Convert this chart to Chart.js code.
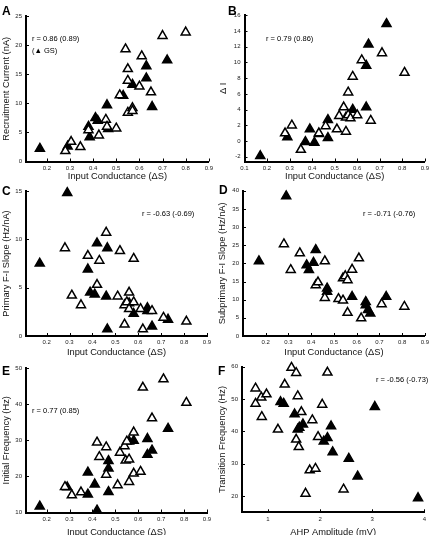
<!DOCTYPE html>
<html>
<head>
<meta charset="utf-8">
<script src="https://cdn.jsdelivr.net/npm/chart.js@4.4.0/dist/chart.umd.min.js"></script>
<style>
html, body { margin: 0; padding: 0; background: #fff; overflow: hidden; }
#wrap { position: relative; width: 432px; height: 535px; }
canvas { position: absolute; }
</style>
</head>
<body>
<div id="wrap"></div>
<script>
// tick labels
var condTicks = [0.2, 0.3, 0.4, 0.5, 0.6, 0.7, 0.8, 0.9];
var condTicksB = [0.1, 0.2, 0.3, 0.4, 0.5, 0.6, 0.7, 0.8, 0.9];
var ahpTicks = [1, 2, 3, 4];
var recruitTicks = [0, 5, 10, 15, 20, 25];
var deltaTicks = [-2, 0, 2, 4, 6, 8, 10, 12, 14, 16];
var primTicks = [0, 5, 10, 15];
var subTicks = [0, 5, 10, 15, 20, 25, 30, 35, 40];
var initTicks = [10, 20, 30, 40, 50];
var transTicks = [20, 30, 40, 50, 60];

// A: recruitment current vs input conductance
var aFilled = [[0.17,2.2],[0.29,2.6],[0.38,6.0],[0.385,4.2],[0.41,7.5],[0.42,7.0],[0.46,9.7],[0.465,5.6],[0.53,11.3],[0.57,13.2],[0.63,16.4],[0.63,14.3],[0.655,9.4],[0.72,17.4]];
var aOpen = [[0.28,1.8],[0.305,3.4],[0.345,2.5],[0.38,5.4],[0.425,4.5],[0.455,7.2],[0.46,6.0],[0.50,5.7],[0.515,11.4],[0.54,19.3],[0.55,15.9],[0.55,13.9],[0.55,8.4],[0.57,9.2],[0.57,8.7],[0.60,12.9],[0.61,18.1],[0.65,11.9],[0.70,21.6],[0.80,22.2]];

// B: delta I
var bFilled = [[0.17,-1.9],[0.29,0.5],[0.37,-0.1],[0.39,1.5],[0.41,-0.2],[0.43,0.9],[0.47,2.7],[0.47,0.4],[0.58,4.0],[0.64,4.3],[0.64,9.6],[0.65,12.3],[0.73,14.9]];
var bOpen = [[0.28,1.0],[0.31,2.0],[0.35,-1.1],[0.43,1.0],[0.46,1.9],[0.51,1.5],[0.52,3.2],[0.54,4.3],[0.55,3.0],[0.55,1.2],[0.56,3.3],[0.57,2.9],[0.56,6.2],[0.58,8.2],[0.60,3.3],[0.62,10.3],[0.66,2.6],[0.71,11.2],[0.81,8.7]];

// C: primary F-I slope
var cFilled = [[0.17,7.5],[0.29,14.8],[0.38,6.9],[0.39,4.5],[0.41,4.3],[0.42,9.6],[0.46,4.1],[0.465,9.1],[0.465,0.7],[0.56,3.4],[0.58,2.3],[0.64,2.9],[0.64,2.6],[0.66,1.0],[0.73,1.7]];
var cOpen = [[0.28,9.1],[0.31,4.2],[0.35,3.2],[0.38,8.3],[0.43,7.8],[0.42,5.3],[0.46,10.7],[0.51,4.1],[0.52,8.8],[0.54,3.2],[0.55,3.5],[0.56,4.5],[0.56,2.8],[0.58,3.5],[0.58,8.0],[0.54,1.2],[0.61,2.8],[0.62,0.7],[0.66,2.6],[0.71,1.9],[0.81,1.5]];

// D: subprimary F-I slope
var dFilled = [[0.17,20.6],[0.29,38.5],[0.38,19.5],[0.39,18.2],[0.41,20.2],[0.42,23.7],[0.47,13.1],[0.47,12.2],[0.58,10.8],[0.64,9.4],[0.64,8.5],[0.65,7.2],[0.66,6.2],[0.73,10.8]];
var dOpen = [[0.28,25.3],[0.31,18.2],[0.35,22.8],[0.42,14.0],[0.43,14.8],[0.46,20.6],[0.46,10.5],[0.52,10.2],[0.54,9.8],[0.54,15.9],[0.55,16.5],[0.56,15.4],[0.56,6.4],[0.58,18.3],[0.61,21.4],[0.62,4.9],[0.71,8.8],[0.81,8.1]];

// E: initial frequency
var eFilled = [[0.17,11.7],[0.29,17.0],[0.38,15.0],[0.38,21.1],[0.41,17.8],[0.42,10.6],[0.47,24.3],[0.47,22.2],[0.47,15.7],[0.56,29.7],[0.58,29.9],[0.64,30.4],[0.64,26.0],[0.66,27.2],[0.73,33.2]];
var eOpen = [[0.28,17.1],[0.31,14.8],[0.35,15.6],[0.42,29.4],[0.43,25.4],[0.46,28.1],[0.46,20.5],[0.51,17.6],[0.52,26.6],[0.54,28.4],[0.545,24.4],[0.55,29.7],[0.56,24.7],[0.56,18.5],[0.58,32.2],[0.58,20.8],[0.61,21.3],[0.62,44.6],[0.66,36.1],[0.71,46.9],[0.81,40.4]];

// F: transition frequency vs AHP amplitude
var fFilled = [[1.24,49.1],[1.30,48.6],[1.51,45.3],[1.57,40.6],[1.60,41.2],[1.67,42.2],[2.14,38.0],[2.07,36.9],[2.21,41.6],[2.24,33.6],[2.55,31.6],[2.72,26.1],[3.05,47.6],[3.88,19.4]];
var fOpen = [[0.76,53.3],[0.76,48.6],[0.87,50.5],[0.97,51.5],[0.88,44.5],[1.19,40.6],[1.45,59.7],[1.54,58.1],[1.32,54.5],[1.57,50.9],[1.64,46.0],[1.54,37.5],[1.59,35.2],[1.85,43.5],[2.14,58.2],[2.04,48.3],[1.96,38.3],[1.80,28.0],[1.91,28.5],[1.72,20.8],[2.45,22.1]];

var FONT = "'Liberation Sans', Arial, Helvetica, sans-serif";
var condTitle = 'Input Conductance (\u0394S)';

// box = canvas [left, top, w, h], area = chart area [l, t, r, b] in page px
var panels = [
  { letter: 'A', box: [0, 0, 216, 182], area: [26, 16, 210, 161.5], xr: [0.11, 0.9], yr: [0, 25],
    xt: condTicks, yt: recruitTicks, xTitle: condTitle, yTitle: 'Recruitment Current (nA)', yTitleX: 6,
    filled: aFilled, open: aOpen, letterPos: [2, 15],
    notes: [['r = 0.86 (0.89)', 32, 41], ['(\u25B2 GS)', 32, 53]] },
  { letter: 'B', box: [216, 0, 216, 182], area: [244.5, 15.3, 426, 161.5], xr: [0.1, 0.9], yr: [-2.6, 16],
    xt: condTicksB, yt: deltaTicks, xTitle: condTitle, yTitle: '\u0394 I', yTitleX: 223,
    filled: bFilled, open: bOpen, letterPos: [228, 15],
    notes: [['r = 0.79 (0.86)', 266, 41]] },
  { letter: 'C', box: [0, 172, 216, 186], area: [26, 191, 207, 336], xr: [0.11, 0.9], yr: [0, 15],
    xt: condTicks, yt: primTicks, xTitle: condTitle, yTitle: 'Primary F-I Slope (Hz/nA)', yTitleX: 6,
    filled: cFilled, open: cOpen, letterPos: [2, 195],
    notes: [['r = -0.63 (-0.69)', 142, 216]] },
  { letter: 'D', box: [216, 172, 216, 186], area: [243, 190.7, 426, 336], xr: [0.1, 0.9], yr: [0, 40],
    xt: condTicks, yt: subTicks, xTitle: condTitle, yTitle: 'Subprimary F-I Slope (Hz/nA)', yTitleX: 222,
    filled: dFilled, open: dOpen, letterPos: [219, 194],
    notes: [['r = -0.71 (-0.76)', 363, 216]] },
  { letter: 'E', box: [0, 350, 216, 188], area: [26, 368, 207, 512.5], xr: [0.11, 0.9], yr: [10, 50],
    xt: condTicks, yt: initTicks, xTitle: condTitle, yTitle: 'Initial Frequency (Hz)', yTitleX: 6,
    filled: eFilled, open: eOpen, letterPos: [2, 375],
    notes: [['r = 0.77 (0.85)', 32, 413]] },
  { letter: 'F', box: [216, 350, 216, 188], area: [242, 366.7, 424.3, 512.3], xr: [0.5, 4], yr: [15, 60],
    xt: ahpTicks, yt: transTicks, xTitle: 'AHP Amplitude (mV)', yTitle: 'Transition Frequency (Hz)', yTitleX: 222,
    filled: fFilled, open: fOpen, letterPos: [218, 375],
    notes: [['r = -0.56 (-0.73)', 376, 382]] }
];

// small tick marks pointing into the plot
var innerTicks = {
  id: 'innerTicks',
  beforeDatasetsDraw: function(chart) {
    var ctx = chart.ctx, a = chart.chartArea, xs = chart.scales.x, ys = chart.scales.y;
    ctx.save();
    ctx.strokeStyle = '#000';
    ctx.lineWidth = 1;
    ctx.beginPath();
    xs.ticks.forEach(function(t) {
      var px = Math.round(xs.getPixelForValue(t.value)) + 0.5;
      ctx.moveTo(px, a.bottom); ctx.lineTo(px, a.bottom - 3);
    });
    ys.ticks.forEach(function(t) {
      var py = Math.round(ys.getPixelForValue(t.value)) + 0.5;
      ctx.moveTo(a.left, py); ctx.lineTo(a.left + 3, py);
    });
    ctx.stroke();
    ctx.restore();
  }
};

// panel letter and r values
var panelText = {
  id: 'panelText',
  afterDraw: function(chart) {
    var p = chart.config.options.plugins.panelText;
    var ctx = chart.ctx;
    ctx.save();
    ctx.fillStyle = '#000';
    ctx.textBaseline = 'alphabetic';
    ctx.font = 'bold 12px ' + FONT;
    ctx.fillText(p.letter, p.letterPos[0] - p.box[0], p.letterPos[1] - p.box[1]);
    ctx.font = '7.5px ' + FONT;
    p.notes.forEach(function(n) {
      ctx.fillText(n[0], n[1] - p.box[0], n[2] - p.box[1]);
    });
    ctx.restore();
  }
};

function fmt(v) {
  return String(Math.round(v * 100) / 100);
}

function makePanel(p) {
  var b = p.box, a = p.area;
  var c = document.createElement('canvas');
  c.width = b[2];
  c.height = b[3];
  c.style.left = b[0] + 'px';
  c.style.top = b[1] + 'px';
  document.getElementById('wrap').appendChild(c);

  var yWidth = a[0] - b[0];
  var xHeight = b[1] + b[3] - a[3];

  var marker = {
    pointStyle: 'triangle',
    pointRadius: 5.2,
    borderColor: '#000',
    borderWidth: 1.5,
    showLine: false,
    clip: 10
  };

  new Chart(c, {
    type: 'scatter',
    data: {
      datasets: [
        Object.assign({ data: p.open.map(function(d) { return { x: d[0], y: d[1] }; }), backgroundColor: '#fff' }, marker),
        Object.assign({ data: p.filled.map(function(d) { return { x: d[0], y: d[1] }; }), backgroundColor: '#000' }, marker)
      ]
    },
    options: {
      responsive: false,
      animation: false,
      events: [],
      layout: { padding: { left: 0, top: a[1] - b[1], right: b[0] + b[2] - a[2], bottom: 0 } },
      plugins: {
        legend: { display: false },
        tooltip: { enabled: false },
        panelText: p
      },
      scales: {
        x: {
          type: 'linear',
          min: p.xr[0], max: p.xr[1],
          afterBuildTicks: function(s) { s.ticks = p.xt.map(function(v) { return { value: v }; }); },
          afterFit: function(s) { s.height = xHeight; },
          grid: { display: false, drawTicks: false },
          border: { display: true, width: 2, color: '#000' },
          ticks: { autoSkip: false, maxRotation: 0, padding: 3, color: '#222', font: { family: FONT, size: 6 }, callback: fmt },
          title: { display: true, text: p.xTitle, color: '#111', padding: { top: 0, bottom: 0 }, font: { family: FONT, size: 9.3 } }
        },
        y: {
          type: 'linear',
          min: p.yr[0], max: p.yr[1],
          afterBuildTicks: function(s) { s.ticks = p.yt.map(function(v) { return { value: v }; }); },
          afterFit: function(s) { s.width = yWidth; },
          grid: { display: false, drawTicks: false },
          border: { display: true, width: 2, color: '#000' },
          ticks: { autoSkip: false, padding: 4, color: '#222', font: { family: FONT, size: 6 }, callback: fmt },
          title: { display: true, text: p.yTitle, color: '#111', padding: { top: Math.max(0, p.yTitleX - b[0] - 5.4), bottom: 0 }, font: { family: FONT, size: 9.3 } }
        }
      }
    },
    plugins: [innerTicks, panelText]
  });
}

panels.forEach(makePanel);
</script>
</body>
</html>
